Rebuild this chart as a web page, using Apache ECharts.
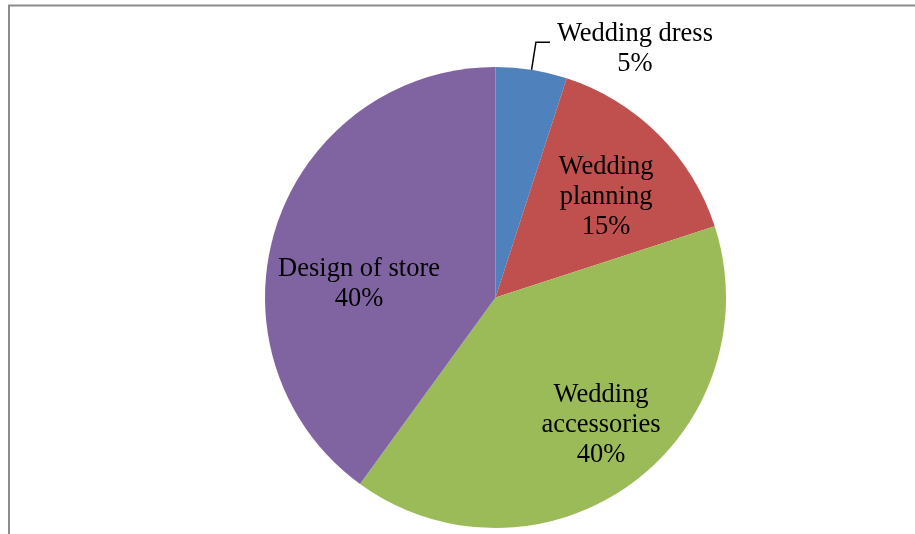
<!DOCTYPE html>
<html>
<head>
<meta charset="utf-8">
<style>
html,body{margin:0;padding:0;background:#fff;}
#chart{width:915px;height:534px;}
</style>
<script src="https://cdn.jsdelivr.net/npm/echarts@6/dist/echarts.min.js"></script>
</head>
<body>
<div id="chart"></div>
<script>
var categories = ['Wedding dress', 'Wedding planning', 'Wedding accessories', 'Design of store'];
var labelNames = ['Wedding dress', 'Wedding\nplanning', 'Wedding\naccessories', 'Design of store'];
var values = [5, 15, 40, 40];
var colors = ['#4F81BD', '#C0504D', '#9BBB59', '#8064A2'];
var labelShift = [[0, 0], [27, -17], [36, 32], [-24, 23]];

var chart = echarts.init(document.getElementById('chart'), null, {renderer: 'canvas'});
var font = '"Liberation Serif", "Times New Roman", serif';

var data = categories.map(function (c, i) {
  var item = {name: c, value: values[i], itemStyle: {color: colors[i]}};
  if (i === 0) {
    item.label = {
      position: 'outside',
      formatter: '{a|' + labelNames[i] + '}\n{a|{d}%}',
      padding: [13, 0, 0, 0],
      rich: {a: {width: 160, align: 'center', fontSize: 26.5, lineHeight: 30, fontFamily: font, color: '#000'}}
    };
    item.labelLine = {show: true, length: 28, length2: 14, smooth: false, lineStyle: {color: '#000', width: 1.5}};
  } else {
    item.label = {
      position: 'inside',
      formatter: labelNames[i] + '\n{d}%',
      align: 'center'
    };
  }
  return item;
});

chart.setOption({
  backgroundColor: '#ffffff',
  animation: false,
  graphic: [{
    type: 'rect',
    shape: {x: 9, y: 5.5, width: 2000, height: 2000},
    style: {fill: 'none', stroke: '#8c8c8c', lineWidth: 2},
    silent: true
  }],
  series: [{
    type: 'pie',
    center: [495.5, 297.5],
    radius: [0, 230.5],
    startAngle: 90,
    clockwise: true,
    avoidLabelOverlap: false,
    data: data,
    label: {
      show: true,
      color: '#000',
      fontSize: 26.5,
      lineHeight: 30,
      fontFamily: font,
      distanceToLabelLine: 5
    },
    labelLine: {show: false},
    labelLayout: function (params) {
      var s = labelShift[params.dataIndex];
      if (params.dataIndex === 0) return {};
      return {dx: s[0], dy: s[1]};
    },
    itemStyle: {borderWidth: 0},
    emphasis: {disabled: true}
  }]
});
</script>
</body>
</html>
